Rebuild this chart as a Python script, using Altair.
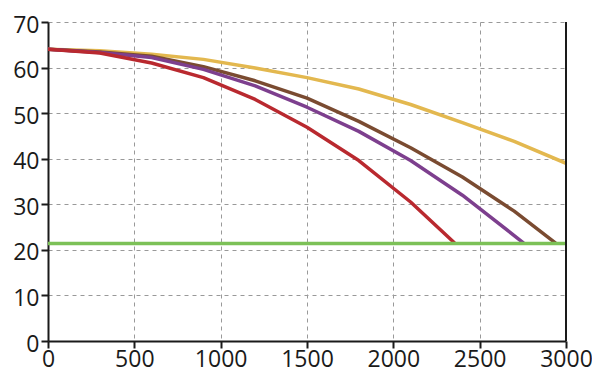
import altair as alt
import pandas as pd

x_red = [0, 300, 600, 900, 1200, 1500, 1800, 2100, 2355]
y_red = [64, 63.2, 61.0, 57.8, 53.0, 46.9, 39.6, 30.5, 21.5]
x_purple = [0, 300, 600, 900, 1200, 1500, 1800, 2100, 2400, 2755]
y_purple = [64, 63.3, 62.2, 59.6, 56.0, 51.3, 46.0, 39.6, 32.0, 21.5]
x_brown = [0, 300, 600, 900, 1200, 1500, 1800, 2100, 2400, 2700, 2940]
y_brown = [64, 63.4, 62.5, 60.2, 57.1, 53.3, 48.2, 42.4, 36.0, 28.5, 21.5]
x_yellow = [0, 300, 600, 900, 1200, 1500, 1800, 2100, 2400, 2700, 3000]
y_yellow = [64, 63.7, 62.9, 61.8, 59.9, 57.8, 55.3, 51.9, 47.9, 43.8, 39.0]
x_green = [0, 3000]
y_green = [21.4, 21.4]

series = [
    ("yellow", x_yellow, y_yellow, "#E3B84F"),
    ("brown", x_brown, y_brown, "#7A4B31"),
    ("purple", x_purple, y_purple, "#7D3F8E"),
    ("red", x_red, y_red, "#B9292F"),
    ("green", x_green, y_green, "#7CC157"),
]

rows = []
for i, (name, xs, ys, col) in enumerate(series):
    for j, (xv, yv) in enumerate(zip(xs, ys)):
        rows.append({"s": name, "o": i, "k": j, "x": xv, "y": yv})
df = pd.DataFrame(rows)

font = "Open Sans"
xscale = alt.Scale(domain=[0, 3000], nice=False, zero=False)
yscale = alt.Scale(domain=[0, 70], nice=False)

xaxis = alt.Axis(values=[0, 500, 1000, 1500, 2000, 2500, 3000], title=None, format="d",
                 labelFont=font, labelFontSize=23, labelColor="#1a1a1a",
                 domainColor="#1a1a1a", domainWidth=2, tickColor="#1a1a1a",
                 tickWidth=2, tickSize=7, labelPadding=0,
                 grid=True, gridColor="#999999", gridDash=[4, 4], gridWidth=1,
                 labelFlush=False)
yaxis = alt.Axis(values=[0, 10, 20, 30, 40, 50, 60, 70], title=None, format="d",
                 labelFont=font, labelFontSize=23, labelColor="#1a1a1a",
                 domainColor="#1a1a1a", domainWidth=2, tickColor="#1a1a1a",
                 tickWidth=2, tickSize=7, labelPadding=2, labelOffset=3,
                 grid=True, gridColor="#999999", gridDash=[4, 4], gridWidth=1,
                 labelFlush=False)

lines = alt.Chart(df).mark_line(strokeWidth=3.5, strokeCap="butt", strokeJoin="round", clip=True).encode(
    x=alt.X("x:Q", scale=xscale, axis=xaxis),
    y=alt.Y("y:Q", scale=yscale, axis=yaxis),
    detail="s:N",
    order="k:O",
    color=alt.Color("s:N", scale=alt.Scale(domain=[s[0] for s in series], range=[s[3] for s in series]), legend=None),
)

border = alt.Chart(pd.DataFrame({"x": [3000]})).mark_rule(color="#1a1a1a", strokeWidth=2).encode(
    x=alt.X("x:Q", scale=xscale),
    y=alt.value(0),
    y2=alt.value(319),
)

chart = alt.layer(lines, border).properties(
    width=518, height=319,
    autosize=alt.AutoSizeParams(type="none"),
    padding={"left": 40, "top": 14, "right": 26, "bottom": 33},
).configure_view(stroke=None)

chart.save("out.html", embed_options={"renderer": "svg", "actions": False})
